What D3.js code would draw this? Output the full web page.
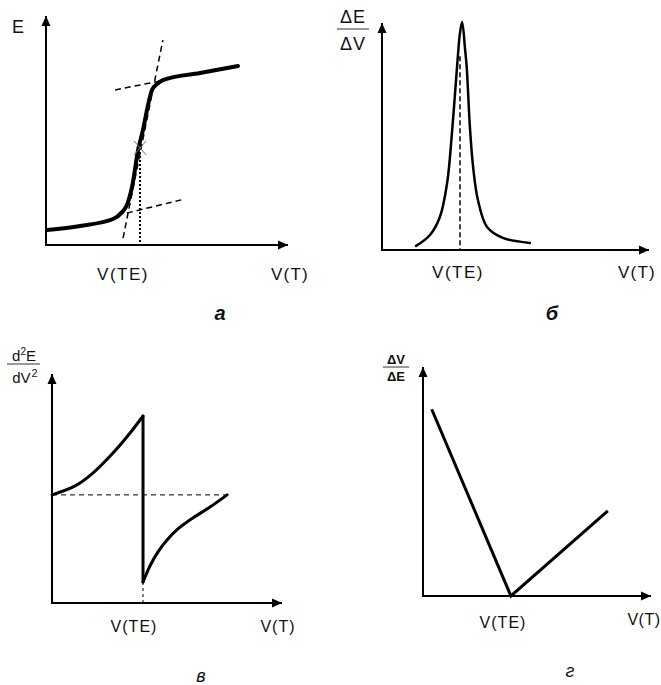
<!DOCTYPE html>
<html><head><meta charset="utf-8">
<script src="https://cdn.jsdelivr.net/npm/d3@7"></script>
<style>html,body{margin:0;padding:0;background:#fff}svg{display:block}text{font-family:"Liberation Sans",Arial,sans-serif;fill:#111}</style>
</head><body>
<svg id="c" width="661" height="685"></svg>
<script>
// ---- data (x, y in percent of each panel's axis length) ----
const curveA = [[0.4,6.5],[14.0,8.3],[27.6,11.3],[31.3,14.3],[33.3,17.4],[35.4,25.2],[37.9,41.3],[39.9,50.0],[42.0,60.9],[43.6,67.4],[45.3,69.6],[48.1,71.7],[63.4,74.8],[79.0,77.8]];
const tangentSteepA = [[31.7,3.0],[48.1,89.1]];
const tangentUpperA = [[28.4,67.4],[46.9,71.3]];
const tangentLowerA = [[33.3,13.9],[57.2,20.0]];
const teA = [38.7,42.2];

const curveB = [[12.7,1.8],[17.9,6.6],[21.6,14.5],[24.3,29.4],[26.1,51.3],[28.0,80.3],[29.1,95.2],[29.9,100],[31.0,88],[31.6,80.4],[32.8,53.9],[34.0,36.4],[35.8,21.9],[39.2,10.1],[45.1,5.3],[55.2,3.1]];
const teB = [29.1,85];

const curveCLeft = [[0,47],[10,50.9],[17.7,56.5],[26.4,65.2],[33.8,73.9],[39.4,81.3]];
const curveCRight = [[39.4,9.1],[42.4,16.1],[45.9,22.2],[49.8,27.4],[54.5,32.2],[61.0,37.0],[68.4,41.7],[75.8,47.0]];
const zeroC = 47;

const lineD = [[3.8,81.2],[38.4,0],[80.7,37]];

const panelLetters = ["а","б","в","г"];
const xLabelTE = "V(TE)", xLabelT = "V(T)";

// ---- drawing ----
const svg = d3.select("#c");
const defs = svg.append("defs");
defs.append("marker").attr("id","arr").attr("viewBox","0 0 10 10").attr("refX",10).attr("refY",5)
  .attr("markerWidth",10).attr("markerHeight",10).attr("markerUnits","userSpaceOnUse").attr("orient","auto")
  .append("path").attr("d","M0,0.5L10,5L0,9.5Z").attr("fill","#000");

function panel(px, py){
  const x = d3.scaleLinear().domain([0,100]).range(px);
  const y = d3.scaleLinear().domain([0,100]).range(py);
  const g = svg.append("g");
  g.append("line").attr("x1",x(0)).attr("y1",y(0)).attr("x2",x(0)).attr("y2",y(100)+1)
    .attr("stroke","#000").attr("stroke-width",2).attr("marker-end","url(#arr)");
  g.append("line").attr("x1",x(0)-1).attr("y1",y(0)).attr("x2",x(100)-1).attr("y2",y(0))
    .attr("stroke","#000").attr("stroke-width",2).attr("marker-end","url(#arr)");
  const line = (c)=>d3.line().x(d=>x(d[0])).y(d=>y(d[1])).curve(c||d3.curveLinear);
  return {x,y,g,line};
}
function txt(g,x,y,s,size,opt={}){
  const t=g.append("text").attr("x",x).attr("y",y).attr("font-size",size).attr("text-anchor",opt.anchor||"middle").text(s);
  if(opt.ls) t.attr("letter-spacing",opt.ls);
  if(opt.style) t.attr("font-style",opt.style);
  if(opt.weight) t.attr("font-weight",opt.weight);
  return t;
}
function frac(g,cx,top,bot,lineY,w,size,weight){
  txt(g,cx,top.y,top.s,size,{ls:top.ls,weight});
  g.append("line").attr("x1",cx-w/2).attr("x2",cx+w/2).attr("y1",lineY).attr("y2",lineY).attr("stroke","#333").attr("stroke-width",1);
  txt(g,cx,bot.y,bot.s,size,{ls:bot.ls,weight});
}

// Panel а
{
  const p = panel([46,289],[245,15]);
  const dash = {"stroke":"#000","stroke-width":1.5,"fill":"none","stroke-dasharray":"6,4"};
  [tangentSteepA,tangentUpperA,tangentLowerA].forEach(t=>{
    const l=p.g.append("path").attr("d",p.line()(t));
    Object.entries(dash).forEach(([k,v])=>l.attr(k,v));
  });
  p.g.append("line").attr("x1",p.x(teA[0])).attr("x2",p.x(teA[0])).attr("y1",p.y(teA[1])).attr("y2",p.y(0))
    .attr("stroke","#000").attr("stroke-width",2).attr("stroke-dasharray","2,2");
  p.g.append("path").attr("d",p.line(d3.curveMonotoneX)(curveA)).attr("fill","none").attr("stroke","#000")
    .attr("stroke-width",4).attr("stroke-linecap","round").attr("stroke-linejoin","round");
  const cx=p.x(teA[0]), cy=p.y(teA[1]);
  p.g.append("path").attr("d",`M${cx-6},${cy-7}L${cx+6},${cy+7}M${cx+6},${cy-7}L${cx-6},${cy+7}`).attr("stroke","#777").attr("stroke-width",1);
  txt(p.g,18,33,"E",18,{});
  txt(p.g,123,280,xLabelTE,17,{ls:1.5});
  txt(p.g,290,280,xLabelT,17,{ls:1.2});
  txt(p.g,220,320,panelLetters[0],20,{style:"italic",weight:"bold"});
}
// Panel б
{
  const p = panel([382,650],[250,22]);
  p.g.append("line").attr("x1",p.x(teB[0])).attr("x2",p.x(teB[0])).attr("y1",p.y(teB[1])).attr("y2",p.y(0))
    .attr("stroke","#000").attr("stroke-width",1.5).attr("stroke-dasharray","5,3");
  p.g.append("path").attr("d",p.line(d3.curveCatmullRom.alpha(0.5))(curveB)).attr("fill","none").attr("stroke","#000")
    .attr("stroke-width",2.5).attr("stroke-linecap","round").attr("stroke-linejoin","round");
  frac(p.g,353,{s:"ΔE",y:23,ls:1},{s:"ΔV",y:50,ls:1},29,32,18);
  txt(p.g,458,278,xLabelTE,17,{ls:1.5});
  txt(p.g,637,278,xLabelT,17,{ls:1.2});
  txt(p.g,552,320,panelLetters[1],20,{style:"italic",weight:"bold"});
}
// Panel в
{
  const p = panel([52,283],[603,373]);
  p.g.append("line").attr("x1",p.x(0)).attr("x2",p.x(curveCRight[curveCRight.length-1][0])).attr("y1",p.y(zeroC)).attr("y2",p.y(zeroC))
    .attr("stroke","#000").attr("stroke-width",1).attr("stroke-dasharray","5,4");
  p.g.append("line").attr("x1",p.x(curveCRight[0][0])).attr("x2",p.x(curveCRight[0][0])).attr("y1",p.y(curveCRight[0][1])).attr("y2",p.y(0))
    .attr("stroke","#000").attr("stroke-width",1).attr("stroke-dasharray","3,3");
  const st = s=>s.attr("fill","none").attr("stroke","#000").attr("stroke-width",3).attr("stroke-linecap","round").attr("stroke-linejoin","round");
  st(p.g.append("path").attr("d",p.line(d3.curveCatmullRom)(curveCLeft)));
  st(p.g.append("path").attr("d",p.line()([curveCLeft[curveCLeft.length-1],curveCRight[0]])));
  st(p.g.append("path").attr("d",p.line(d3.curveCatmullRom)(curveCRight)));
  // label d2E/dV2
  const t1=p.g.append("text").attr("x",24).attr("y",361).attr("font-size",15).attr("text-anchor","middle");
  t1.append("tspan").text("d"); t1.append("tspan").attr("font-size",10).attr("dy",-6).text("2"); t1.append("tspan").attr("dy",6).text("E");
  p.g.append("line").attr("x1",7).attr("x2",40).attr("y1",364).attr("y2",364).attr("stroke","#333").attr("stroke-width",1);
  const t2=p.g.append("text").attr("x",25).attr("y",383).attr("font-size",15).attr("text-anchor","middle");
  t2.append("tspan").text("dV"); t2.append("tspan").attr("font-size",11).attr("dy",-6).attr("dx",1).text("2");
  txt(p.g,134,632,xLabelTE,16,{ls:1});
  txt(p.g,278,632,xLabelT,16,{ls:1});
  txt(p.g,201,682,panelLetters[2],18,{style:"italic"});
}
// Panel г
{
  const p = panel([423,652],[596,366]);
  p.g.append("path").attr("d",p.line()(lineD)).attr("fill","none").attr("stroke","#000")
    .attr("stroke-width",3).attr("stroke-linecap","butt").attr("stroke-linejoin","miter");
  frac(p.g,396,{s:"ΔV",y:364,ls:0},{s:"ΔE",y:381,ls:0},367,26,13,"bold");
  txt(p.g,503,628,xLabelTE,16,{ls:1});
  txt(p.g,644,625,xLabelT,16,{ls:0.5});
  txt(p.g,570,677,panelLetters[3],18,{style:"italic"});
}
</script>
</body></html>
